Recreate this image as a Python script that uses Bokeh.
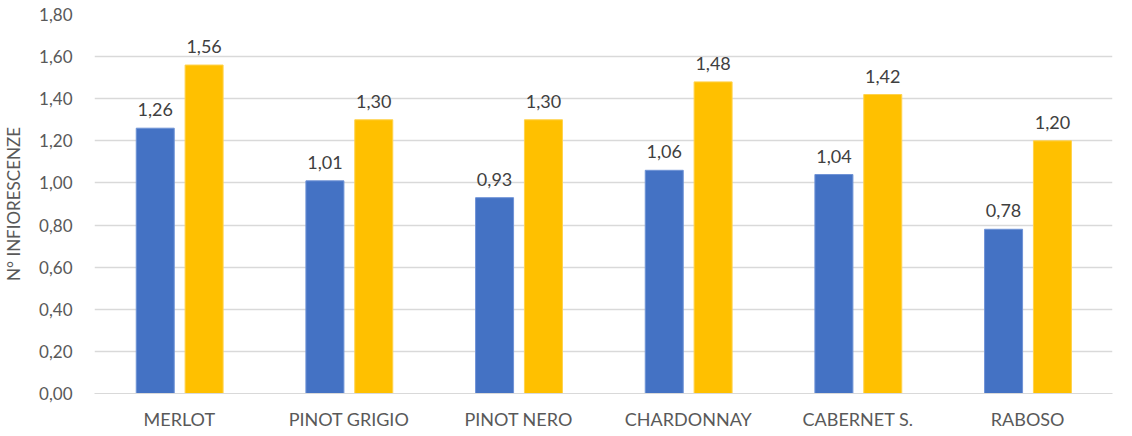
from bokeh.plotting import figure
from bokeh.models import ColumnDataSource, FactorRange, Range1d, CustomJSTickFormatter, FixedTicker
from bokeh.transform import dodge
from bokeh.core.properties import value
from bokeh.embed import file_html
from bokeh.resources import INLINE

categories = ["MERLOT", "PINOT GRIGIO", "PINOT NERO", "CHARDONNAY", "CABERNET S.", "RABOSO"]
series_a = [1.26, 1.01, 0.93, 1.06, 1.04, 0.78]
series_b = [1.56, 1.30, 1.30, 1.48, 1.42, 1.20]
y_ticks = [0.0, 0.2, 0.4, 0.6, 0.8, 1.0, 1.2, 1.4, 1.6, 1.8]

def fmt(v):
    return f"{v:.2f}".replace(".", ",")

src = ColumnDataSource(dict(
    cat=categories, a=series_a, b=series_b,
    la=[fmt(v) for v in series_a], lb=[fmt(v) for v in series_b],
))

FONT = "Lato"
p = figure(x_range=FactorRange(*categories), y_range=Range1d(0, 1.8),
           width=1116, height=432, output_backend="svg", toolbar_location=None,
           min_border_left=92, min_border_right=4, min_border_top=14, min_border_bottom=0)
p.outline_line_color = None

p.vbar(x=dodge("cat", -0.142, range=p.x_range), top="a", width=0.224, source=src,
       fill_color="#4472C4", line_color="#6f93d6", line_width=1)
p.vbar(x=dodge("cat", 0.146, range=p.x_range), top="b", width=0.224, source=src,
       fill_color="#FFC000", line_color="#ffd24d", line_width=1)

p.text(x=dodge("cat", -0.142, range=p.x_range), y="a", text="la", source=src,
       text_align="center", text_baseline="bottom", y_offset=-12,
       text_font=value(FONT), text_font_size="18px", text_color="#404040")
p.text(x=dodge("cat", 0.146, range=p.x_range), y="b", text="lb", source=src,
       text_align="center", text_baseline="bottom", y_offset=-12,
       text_font=value(FONT), text_font_size="18px", text_color="#404040")

p.yaxis.ticker = FixedTicker(ticks=y_ticks)
p.yaxis.formatter = CustomJSTickFormatter(code="return tick.toFixed(2).replace('.', ',');")
p.yaxis.axis_label = "N° INFIORESCENZE"
p.yaxis.axis_label_text_font = FONT
p.yaxis.axis_label_text_font_style = "normal"
p.yaxis.axis_label_text_font_size = "17px"
p.yaxis.axis_label_text_color = "#595959"
p.yaxis.axis_label_standoff = 12
p.yaxis.major_label_text_font = FONT
p.yaxis.major_label_text_font_size = "17px"
p.yaxis.major_label_text_color = "#595959"
p.yaxis.axis_line_color = None
p.yaxis.major_tick_line_color = None
p.yaxis.minor_tick_line_color = None
p.yaxis.major_tick_out = 0
p.yaxis.major_label_standoff = 22

p.xaxis.major_label_text_font = FONT
p.xaxis.major_label_text_font_size = "18px"
p.xaxis.major_label_text_color = "#595959"
p.xaxis.axis_line_color = "#d9d9d9"
p.xaxis.major_tick_line_color = None
p.xaxis.minor_tick_line_color = None
p.xaxis.major_tick_out = 0
p.xaxis.major_label_standoff = 14

p.xgrid.grid_line_color = None
p.ygrid.grid_line_color = "#d9d9d9"
p.ygrid.grid_line_width = 1.5

open("out.html", "w").write(file_html(p, INLINE))
